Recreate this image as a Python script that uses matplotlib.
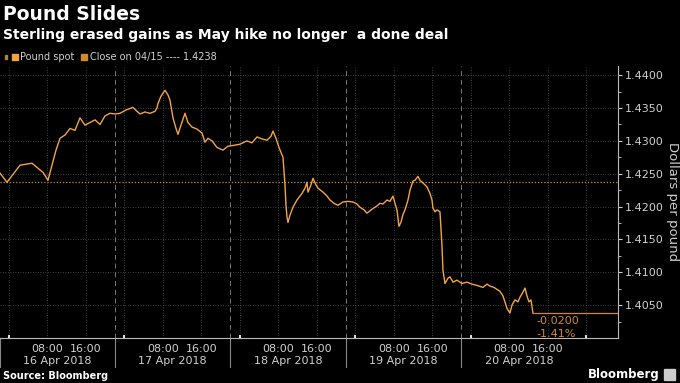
import matplotlib
matplotlib.use('Agg')
import matplotlib.pyplot as plt
import matplotlib.transforms as mtransforms
from matplotlib.patches import Rectangle

# hours since 16 Apr 2018 00:00, GBP/USD spot
hours = [-1.87, -0.42, 2.29, 4.78, 7.07, 8.10, 8.94, 9.77, 10.60, 11.64,
         12.68, 13.71, 14.75, 15.79, 16.83, 17.87, 18.91, 19.95, 20.99, 22.03,
         23.06, 24.31, 25.77, 26.60, 27.22, 28.26, 29.30, 30.34, 30.75, 30.96,
         31.58, 32.42, 33.04, 33.45, 34.08, 34.70, 35.12, 35.74, 36.57, 37.19,
         38.03, 39.06, 40.10, 40.73, 41.35, 42.18, 43.22, 44.47, 45.51, 46.55,
         48.00, 49.45, 50.49, 51.53, 52.57, 53.61, 54.44, 54.86, 55.48, 56.10,
         56.94, 57.14, 57.35, 57.56, 57.77, 57.97, 58.39, 59.01, 59.84, 60.88,
         61.51, 61.92, 62.13, 62.75, 63.17, 63.79, 64.21, 65.25, 66.08, 66.70,
         67.53, 68.36, 69.40, 70.44, 71.48, 72.31, 72.94, 73.77, 74.39, 75.43,
         76.47, 77.09, 77.71, 78.55, 79.17, 79.79, 80.21, 80.62, 81.04, 81.45,
         81.87, 82.29, 82.91, 83.33, 83.95, 84.36, 84.99, 85.40, 86.03, 86.86,
         87.48, 87.90, 88.10, 88.52, 88.94, 89.56, 89.97, 90.18, 90.60, 91.22,
         91.64, 92.26, 93.09, 94.13, 95.17, 96.21, 97.25, 98.49, 99.32, 99.95,
         100.78, 101.40, 102.03, 102.65, 103.06, 103.48, 104.10, 104.52, 105.14, 105.77,
         106.18, 106.81, 107.22, 107.64, 108.05, 108.47, 108.88]
price = [1.4251, 1.4237, 1.4263, 1.4266, 1.4252, 1.4240, 1.4263, 1.4286, 1.4304, 1.4309,
         1.4319, 1.4316, 1.4335, 1.4324, 1.4328, 1.4332, 1.4325, 1.4338, 1.4342, 1.4341,
         1.4342, 1.4347, 1.4351, 1.4345, 1.4341, 1.4344, 1.4342, 1.4345, 1.4350, 1.4357,
         1.4368, 1.4377, 1.4370, 1.4362, 1.4335, 1.4319, 1.4310, 1.4324, 1.4342, 1.4328,
         1.4321, 1.4318, 1.4312, 1.4298, 1.4304, 1.4300, 1.4290, 1.4286, 1.4292, 1.4293,
         1.4295, 1.4300, 1.4297, 1.4306, 1.4303, 1.4301, 1.4307, 1.4315, 1.4304, 1.4290,
         1.4275, 1.4255, 1.4233, 1.4202, 1.4184, 1.4176, 1.4187, 1.4199, 1.4210, 1.4220,
         1.4228, 1.4237, 1.4222, 1.4233, 1.4243, 1.4233, 1.4228, 1.4222, 1.4216, 1.4210,
         1.4205, 1.4202, 1.4207, 1.4208, 1.4207, 1.4204, 1.4199, 1.4195, 1.4190, 1.4196,
         1.4201, 1.4205, 1.4204, 1.4210, 1.4208, 1.4216, 1.4205, 1.4195, 1.4170, 1.4176,
         1.4188, 1.4195, 1.4210, 1.4225, 1.4239, 1.4240, 1.4246, 1.4240, 1.4236, 1.4230,
         1.4220, 1.4210, 1.4198, 1.4192, 1.4195, 1.4192, 1.4141, 1.4103, 1.4083, 1.4091,
         1.4093, 1.4085, 1.4088, 1.4083, 1.4085, 1.4082, 1.4080, 1.4077, 1.4082, 1.4079,
         1.4077, 1.4074, 1.4071, 1.4064, 1.4055, 1.4045, 1.4038, 1.4050, 1.4058, 1.4055,
         1.4062, 1.4070, 1.4076, 1.4064, 1.4055, 1.4058, 1.4038]
close_0415 = 1.4238
change_text = '-0.0200'
change_pct = '-1.41%'
day_labels = ['16 Apr 2018', '17 Apr 2018', '18 Apr 2018', '19 Apr 2018', '20 Apr 2018']
y_ticks = [1.4050, 1.4100, 1.4150, 1.4200, 1.4250, 1.4300, 1.4350, 1.4400]

ORANGE = '#f2a444'
DIM = '#d08a2a'
GREY = '#cfcfcf'

fig = plt.figure(figsize=(6.8, 3.83), dpi=100, facecolor='black')
ax = fig.add_axes([0.0, 0.1175, 0.9088, 0.7102], facecolor='black')
ax.set_xlim(-1.87, 126.55)
ax.set_ylim(1.4000, 1.4414)

# grid
for y in y_ticks:
    ax.axhline(y, color='#555555', lw=0.6, ls=(0, (1, 2)), zorder=1)
for d in range(6):
    for h in (0, 8, 16):
        ax.axvline(24 * d + h, color='#555555', lw=0.6, ls=(0, (1, 2)), zorder=1)
seps = [22 + 24 * d for d in range(4)]
for s in seps:
    ax.axvline(s, color='#7a7a7a', lw=0.7, ls=(0, (5, 4)), zorder=1)
trans = mtransforms.blended_transform_factory(ax.transData, ax.transAxes)
for s in [-1.8] + seps:
    ax.plot([s, s], [0, -0.107], color='#888888', lw=0.8, transform=trans, clip_on=False)

ax.axhline(close_0415, color=DIM, lw=0.9, ls=(0, (1, 1.5)), zorder=2)
ax.plot(hours, price, color=ORANGE, lw=1.0, zorder=3)
ax.plot([hours[-1], 126.55], [price[-1], price[-1]], color=DIM, lw=0.9, zorder=3)
ax.text(hours[-1] + 0.8, price[-1] - 0.0004, change_text, color=DIM, fontsize=8,
        va='top', ha='left')
ax.text(hours[-1] + 0.8, price[-1] - 0.0024, change_pct, color=DIM, fontsize=8,
        va='top', ha='left')

# axes styling
for side in ('top', 'left'):
    ax.spines[side].set_visible(False)
ax.spines['bottom'].set_color('#bbbbbb')
ax.spines['right'].set_color('#bbbbbb')
ax.yaxis.tick_right()
ax.yaxis.set_label_position('right')
ax.set_yticks(y_ticks)
ax.set_yticklabels(['%.4f' % v for v in y_ticks])
ax.set_yticks([v + 0.0025 for v in y_ticks[:-1]] + [1.4025], minor=True)
ax.tick_params(axis='y', which='both', colors=GREY, labelsize=8, length=3, pad=2, direction='out')
ax.tick_params(axis='y', which='minor', length=2)
ax.set_ylabel('Dollars per pound', color=GREY, fontsize=9.5, rotation=270, labelpad=11)

ax.set_xticks([24 * d + h for d in range(5) for h in (8, 16)])
ax.set_xticklabels(['08:00', '16:00'] * 5)
ax.set_xticks([24 * d for d in range(6)], minor=True)
ax.tick_params(axis='x', which='major', colors=GREY, labelsize=8, length=0, pad=4)
ax.tick_params(axis='x', which='minor', colors='#dddddd', length=2, width=1.5, direction='in')
for i, lab in enumerate(day_labels):
    ax.text(10 + 24 * i, -0.085, lab, color=GREY, fontsize=8, ha='center', va='center',
            transform=trans)

# header
fig.text(0.004, 0.962, 'Pound Slides', color='white', fontsize=13.5, weight='bold', va='center')
fig.text(0.004, 0.908, 'Sterling erased gains as May hike no longer  a done deal',
         color='white', fontsize=10, weight='bold', va='center')
fig.add_artist(Rectangle((0.017, 0.843), 0.009, 0.016, color=ORANGE, transform=fig.transFigure))
fig.add_artist(Rectangle((0.008, 0.846), 0.003, 0.01, color='#b08040', transform=fig.transFigure))
fig.text(0.029, 0.851, 'Pound spot', color=GREY, fontsize=7, va='center')
fig.add_artist(Rectangle((0.119, 0.843), 0.009, 0.016, color=DIM, transform=fig.transFigure))
fig.text(0.132, 0.851, 'Close on 04/15 ---- 1.4238', color=GREY, fontsize=7, va='center')

# footer
fig.text(0.004, 0.018, 'Source: Bloomberg', color='white', fontsize=7, weight='bold', va='center')
fig.text(0.970, 0.022, 'Bloomberg', color='white', fontsize=8.5, weight='bold', ha='right', va='center')
fig.add_artist(Rectangle((0.977, 0.008), 0.015, 0.028, color='#cccccc', transform=fig.transFigure))

fig.savefig('out.png', dpi=100, facecolor='black')
